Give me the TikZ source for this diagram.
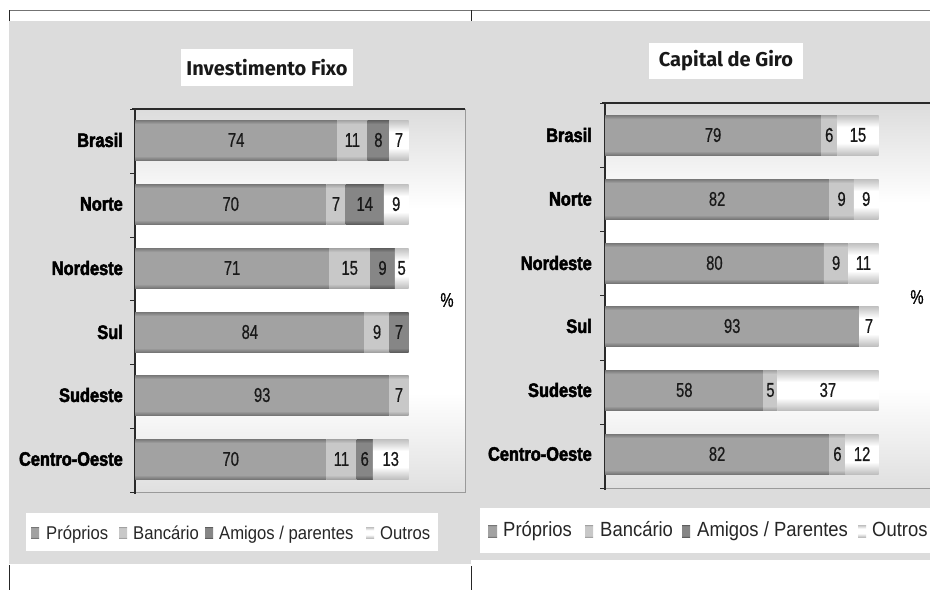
\documentclass[tikz,border=0pt]{standalone}
\usepackage{fontspec}
\newfontfamily\numfont[FakeStretch=0.74,FakeBold=0.6]{Liberation Sans}
\newfontfamily\catfont[FakeStretch=0.84,BoldFeatures={FakeBold=2.5}]{Liberation Sans}
\newfontfamily\legfont[FakeStretch=0.9]{Liberation Sans}
\newfontfamily\ttlfont{Fira Sans}
\definecolor{panel}{HTML}{DCDCDC}
\definecolor{pD}{HTML}{6E6E6E}
\definecolor{pL}{HTML}{A2A2A2}
\definecolor{bD}{HTML}{9A9A9A}
\definecolor{bL}{HTML}{C8C8C8}
\definecolor{aD}{HTML}{565656}
\definecolor{aL}{HTML}{868686}
\definecolor{oD}{HTML}{888888}
\definecolor{oL}{HTML}{FFFFFF}
\definecolor{gT}{HTML}{C4C4C4}
\definecolor{gB}{HTML}{C0C0C0}
\definecolor{axisc}{HTML}{2A2A2A}
\definecolor{framec}{HTML}{9A9A9A}
\pgfdeclareverticalshading{shP}{100bp}{color(0bp)=(pD); color(24bp)=(pD); color(30bp)=(pL); color(70bp)=(pL); color(76bp)=(pD); color(100bp)=(pD)}
\pgfdeclareverticalshading{shB}{100bp}{color(0bp)=(bD); color(24bp)=(bD); color(30bp)=(bL); color(70bp)=(bL); color(76bp)=(bD); color(100bp)=(bD)}
\pgfdeclareverticalshading{shA}{100bp}{color(0bp)=(aD); color(24bp)=(aD); color(30bp)=(aL); color(70bp)=(aL); color(76bp)=(aD); color(100bp)=(aD)}
\pgfdeclareverticalshading{shO}{100bp}{color(0bp)=(oD); color(12bp)=(oD); color(40bp)=(oL); color(60bp)=(oL); color(88bp)=(oD); color(100bp)=(oD)}
\pgfdeclareverticalshading{plotbg}{100bp}{color(0bp)=(gB); color(12bp)=(gB); color(38bp)=(white); color(62bp)=(white); color(84bp)=(gT); color(100bp)=(gT)}
\newcounter{lbl}
\tikzset{
  numlbl/.style={font=\numfont\fontsize{20}{20}\selectfont, inner sep=0pt, text=black!90},
  catlbl/.style={font=\catfont\bfseries\fontsize{19.5}{19.5}\selectfont, inner sep=0pt, anchor=east},
  ttlbox/.style={fill=white, inner sep=0pt, font=\ttlfont\bfseries\fontsize{20}{20}\selectfont, text=black!90},
  legL/.style={font=\legfont\fontsize{18.5}{18.5}\selectfont, inner sep=0pt, anchor=base west, text=black!85},
  legR/.style={font=\legfont\fontsize{20.5}{20.5}\selectfont, inner sep=0pt, anchor=base west, text=black!85},
  pct/.style={font=\numfont\fontsize{20}{20}\selectfont, inner sep=0pt}
}
\newcommand\seg[5]{%
  \shade[shading=#4] (#1,{#3-20}) rectangle (#2,{#3+20});
  \stepcounter{lbl}%
  \node[numlbl] (l\arabic{lbl}) at ({(#1+#2)/2},#3) {#5};}
\newcommand\chartbar[6]{%
  \pgfmathsetmacro\xA{#1}%
  \pgfmathsetmacro\xB{#1+#3*2.735}%
  \pgfmathsetmacro\xC{\xB+#4*2.735}%
  \pgfmathsetmacro\xD{\xC+#5*2.735}%
  \pgfmathsetmacro\xE{\xD+#6*2.735}%
  \seg{\xA}{\xB}{#2}{shP}{#3}%
  \ifnum#4>0 \seg{\xB}{\xC}{#2}{shB}{#4}\fi
  \ifnum#5>0 \seg{\xC}{\xD}{#2}{shA}{#5}\fi
  \ifnum#6>0 \seg{\xD}{\xE}{#2}{shO}{#6}\fi}
\begin{document}
\begin{tikzpicture}[x=1pt,y=-1pt]
\useasboundingbox (0,0) rectangle (930,590);
\fill[white] (0,0) rectangle (930,590);
% page frame lines
\draw[black!55, line width=1pt] (9,10) -- (930,10);
\draw[black!85, line width=1pt] (9,10) -- (9,21);
\draw[black!85, line width=1pt] (471,10) -- (471,21);
\draw[black!85, line width=1pt] (9,565) -- (9,590);
\draw[black!85, line width=1pt] (471,566) -- (471,590);
% panels
\fill[panel] (9,21) rectangle (471,564);
\fill[panel] (469,21) rectangle (930,560);
% ---------------- left chart ----------------
\shade[shading=plotbg] (135,109) rectangle (465,492);
\draw[framec, line width=1pt] (465,109) -- (465,492) -- (135,492);
\draw[axisc, line width=1.3pt] (132,109) -- (465,109);
\draw[axisc, line width=1.3pt] (135,109) -- (135,494);
\foreach \t in {109,173,237,300,364,428,492} \draw[axisc, line width=1pt] (130,\t) -- (135,\t);
\chartbar{135}{140}{74}{11}{8}{7}
\chartbar{135}{204}{70}{7}{14}{9}
\chartbar{135}{268}{71}{15}{9}{5}
\chartbar{135}{332}{84}{9}{7}{0}
\chartbar{135}{395}{93}{7}{0}{0}
\chartbar{135}{459}{70}{11}{6}{13}
\node[catlbl] (cl1) at (123,140) {Brasil};
\node[catlbl] (cl2) at (123,204) {Norte};
\node[catlbl] (cl3) at (123,268) {Nordeste};
\node[catlbl] (cl4) at (123,332) {Sul};
\node[catlbl] (cl5) at (123,395) {Sudeste};
\node[catlbl] (cl6) at (123,459) {Centro-Oeste};
\node[pct] (pl) at (447,300) {\%};
\node[ttlbox, minimum width=172pt, minimum height=37pt] (t1) at (267,67.5) {Investimento Fixo};
% legend left
\node[fill=white, minimum width=412pt, minimum height=38pt, inner sep=0pt] (lgl) at (232,532) {};
\shade[shading=shP] (31,527) rectangle (39,538);
\node[legL] (ll1) at (46,539) {Próprios};
\shade[shading=shB] (119,527) rectangle (127,538);
\node[legL] (ll2) at (133,539) {Bancário};
\shade[shading=shA] (205,527) rectangle (213,538);
\node[legL] (ll3) at (219,539) {Amigos / parentes};
\shade[shading=shO] (366,527) rectangle (374,538);
\node[legL] (ll4) at (380,539) {Outros};
% ---------------- right chart ----------------
\shade[shading=plotbg] (605,103) rectangle (930,488);
\draw[framec, line width=1pt] (605,488) -- (930,488);
\draw[axisc, line width=1.3pt] (602,103) -- (930,103);
\draw[axisc, line width=1.3pt] (605,103) -- (605,490);
\foreach \t in {103,167,231,295,360,424,488} \draw[axisc, line width=1pt] (600,\t) -- (605,\t);
\chartbar{605}{135}{79}{6}{0}{15}
\chartbar{605}{199}{82}{9}{0}{9}
\chartbar{605}{263}{80}{9}{0}{11}
\chartbar{605}{326}{93}{0}{0}{7}
\chartbar{605}{390}{58}{5}{0}{37}
\chartbar{605}{454}{82}{6}{0}{12}
\node[catlbl] (cr1) at (592,135) {Brasil};
\node[catlbl] (cr2) at (592,199) {Norte};
\node[catlbl] (cr3) at (592,263) {Nordeste};
\node[catlbl] (cr4) at (592,326) {Sul};
\node[catlbl] (cr5) at (592,390) {Sudeste};
\node[catlbl] (cr6) at (592,454) {Centro-Oeste};
\node[pct] (pr) at (917,297) {\%};
\node[ttlbox, minimum width=154pt, minimum height=36pt] (t2) at (726,61) {Capital de Giro};
% legend right
\fill[white] (480,508) rectangle (930,553);
\shade[shading=shP] (488,525) rectangle (497,537);
\node[legR] (lr1) at (503,536) {Próprios};
\shade[shading=shB] (585,525) rectangle (593,537);
\node[legR] (lr2) at (600,536) {Bancário};
\shade[shading=shA] (682,525) rectangle (690,537);
\node[legR] (lr3) at (697,536) {Amigos / Parentes};
\shade[shading=shO] (858,525) rectangle (866,537);
\node[legR] (lr4) at (872,536) {Outros};
\end{tikzpicture}
\end{document}
